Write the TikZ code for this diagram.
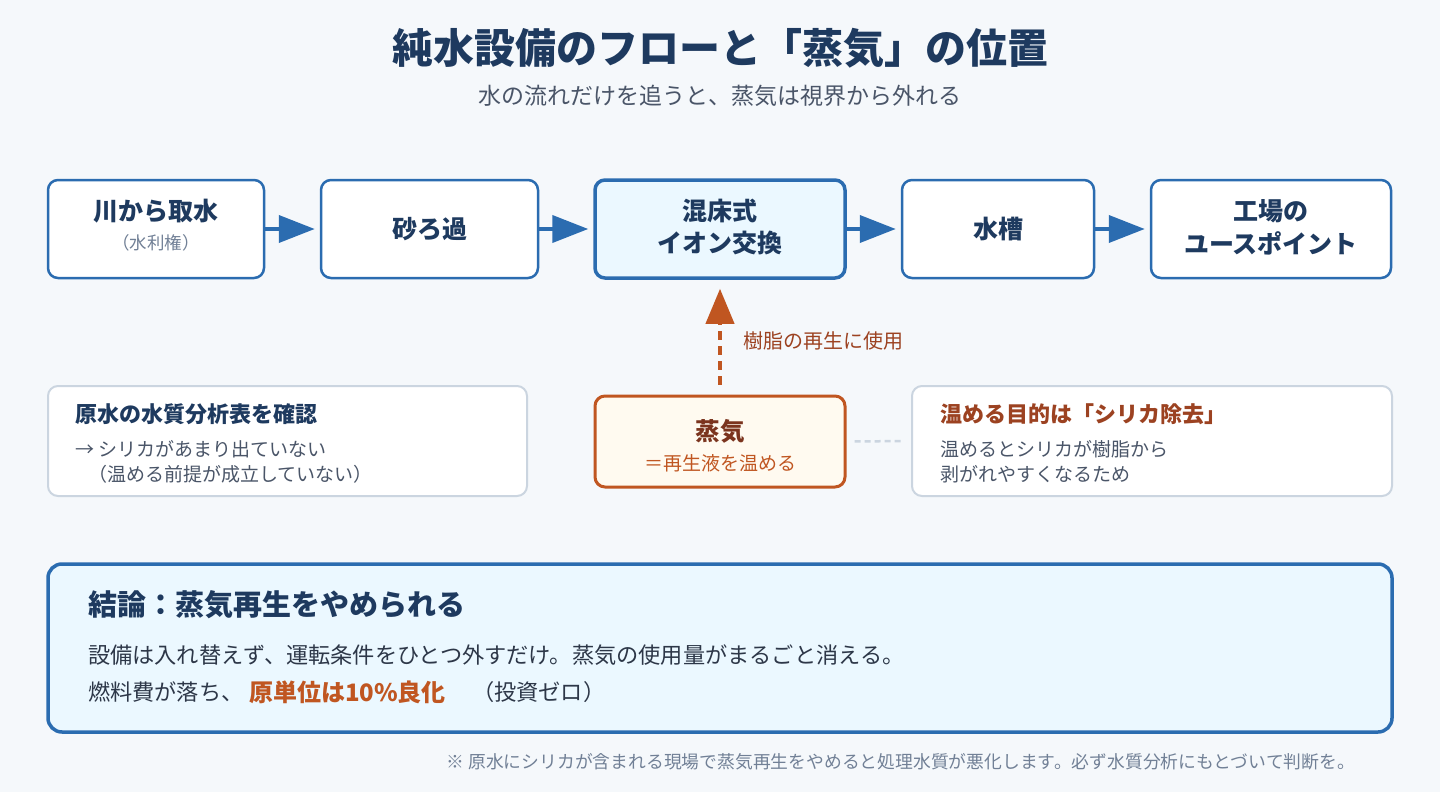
\documentclass[tikz,border=0pt]{standalone}
\usepackage{fontspec}
\setmainfont{Noto Sans CJK JP}
\usetikzlibrary{arrows.meta}
\definecolor{bg}{HTML}{F5F8FB}
\definecolor{navy}{HTML}{1E3A5F}
\definecolor{flowblue}{HTML}{2B6CB0}
\definecolor{lightfill}{HTML}{EBF8FF}
\definecolor{subgray}{HTML}{4A5568}
\definecolor{lightgray}{HTML}{718096}
\definecolor{darkgray}{HTML}{2D3748}
\definecolor{orange}{HTML}{C05621}
\definecolor{brown}{HTML}{9C4221}
\definecolor{darkbrown}{HTML}{7B341E}
\definecolor{cream}{HTML}{FFFAF0}
\definecolor{panelborder}{HTML}{CBD5E0}
\newcommand\myfs[1]{\fontsize{#1}{#1}\selectfont}
\tikzset{
  flowbox/.style={draw=flowblue, line width=2.5pt, rounded corners=10pt, fill=white, minimum height=98pt, inner sep=0pt},
  panel/.style={draw=panelborder, line width=2pt, rounded corners=10pt, fill=white, minimum height=110pt, inner sep=0pt},
  txt/.style={inner sep=0pt, outer sep=0pt},
  flowarrow/.style={draw=flowblue, line width=4pt, -{Triangle[length=36pt,width=27pt]}, shorten >=5pt},
  boxtitle/.style={txt, text=navy, font=\myfs{25}\bfseries},
  boxsub/.style={txt, text=lightgray, font=\myfs{17.5}},
  paneltitle/.style={txt, anchor=west, font=\myfs{22}\bfseries},
  panelbody/.style={txt, anchor=west, text=subgray, font=\myfs{19}},
}
\begin{document}
\begin{tikzpicture}[x=1pt,y=-1pt]
\fill[bg] (0,0) rectangle (1440,792);
\useasboundingbox (0,0) rectangle (1440,792);

% title
\node[txt, text=navy, font=\myfs{41}\bfseries] (title) at (720,48) {純水設備のフローと「蒸気」の位置};
\node[txt, text=subgray, font=\myfs{23}] (subtitle) at (720,96) {水の流れだけを追うと、蒸気は視界から外れる};

% flow boxes
\node[flowbox, minimum width=216pt] (b1) at (156,229) {};
\node[flowbox, minimum width=217pt] (b2) at (429.5,229) {};
\node[flowbox, minimum width=250pt, fill=lightfill, line width=3.5pt] (b3) at (720,229) {};
\node[flowbox, minimum width=192pt] (b4) at (998,229) {};
\node[flowbox, minimum width=240pt] (b5) at (1271,229) {};

\node[boxtitle] (b1t) at (156,211) {川から取水};
\node[boxsub] (b1s) at (156,243) {（水利権）};
\node[boxtitle] (b2t) at (429.5,229) {砂ろ過};
\node[boxtitle] (b3t) at (720,211) {混床式};
\node[boxtitle] (b3s) at (720,243) {イオン交換};
\node[boxtitle] (b4t) at (998,229) {水槽};
\node[boxtitle] (b5t) at (1271,211) {工場の};
\node[boxtitle] (b5s) at (1271,243) {ユースポイント};

\draw[flowarrow] (b1.east) -- (b2.west);
\draw[flowarrow] (b2.east) -- (b3.west);
\draw[flowarrow] (b3.east) -- (b4.west);
\draw[flowarrow] (b4.east) -- (b5.west);

% steam box
\node[draw=orange, line width=3pt, rounded corners=10pt, fill=cream, minimum width=250pt, minimum height=91pt, inner sep=0pt] (steam) at (720,441.5) {};
\node[txt, text=darkbrown, font=\myfs{24.5}\bfseries] (steamt) at (720,431) {蒸気};
\node[txt, text=orange, font=\myfs{19}] (steams) at (720,463) {＝再生液を温める};

\draw[draw=orange, line width=4pt, dash pattern=on 9pt off 6pt, -{Triangle[length=35pt,width=28pt]}, shorten <=10pt, shorten >=9pt] (steam.north) -- (b3.south);
\node[txt, anchor=west, text=brown, font=\myfs{20}] (reglabel) at (743,341) {樹脂の再生に使用};

% side panels
\node[panel, minimum width=479pt] (left) at (287.5,441) {};
\node[paneltitle, text=navy] (leftt) at (75,414) {原水の水質分析表を確認};
\node[panelbody] (left1) at (75,449) {→ シリカがあまり出ていない};
\node[panelbody] (left2) at (88,474) {（温める前提が成立していない）};

\node[panel, minimum width=480pt] (right) at (1152,441) {};
\node[paneltitle, text=brown] (rightt) at (940,414) {温める目的は「シリカ除去」};
\node[panelbody] (right1) at (940,449) {温めるとシリカが樹脂から};
\node[panelbody] (right2) at (940,474) {剥がれやすくなるため};

\draw[draw=panelborder, line width=2.5pt, dash pattern=on 6pt off 4pt, shorten <=8pt, shorten >=9pt] (steam.east) -- (right.west);

% conclusion
\node[draw=flowblue, line width=3.5pt, rounded corners=14pt, fill=lightfill, minimum width=1344pt, minimum height=168pt, inner sep=0pt] (concl) at (720,648) {};
\node[txt, anchor=west, text=navy, font=\myfs{29}\bfseries] (conclt) at (88,605) {結論：蒸気再生をやめられる};
\node[txt, anchor=west, text=darkgray, font=\myfs{22.2}] (concl1) at (88,655) {設備は入れ替えず、運転条件をひとつ外すだけ。蒸気の使用量がまるごと消える。};
\node[txt, anchor=west, text=darkgray, font=\myfs{22.2}] (concl2a) at (88,692) {燃料費が落ち、};
\node[txt, anchor=west, text=orange, font=\myfs{24}\bfseries] (concl2b) at (249,692) {原単位は10\%良化};
\node[txt, anchor=west, text=darkgray, font=\myfs{22.2}] (concl2c) at (472,692) {（投資ゼロ）};

% footnote
\node[txt, anchor=east, text=lightgray, font=\myfs{17.8}] (foot) at (1355,762) {※ 原水にシリカが含まれる現場で蒸気再生をやめると処理水質が悪化します。必ず水質分析にもとづいて判断を。};
\end{tikzpicture}
\end{document}
